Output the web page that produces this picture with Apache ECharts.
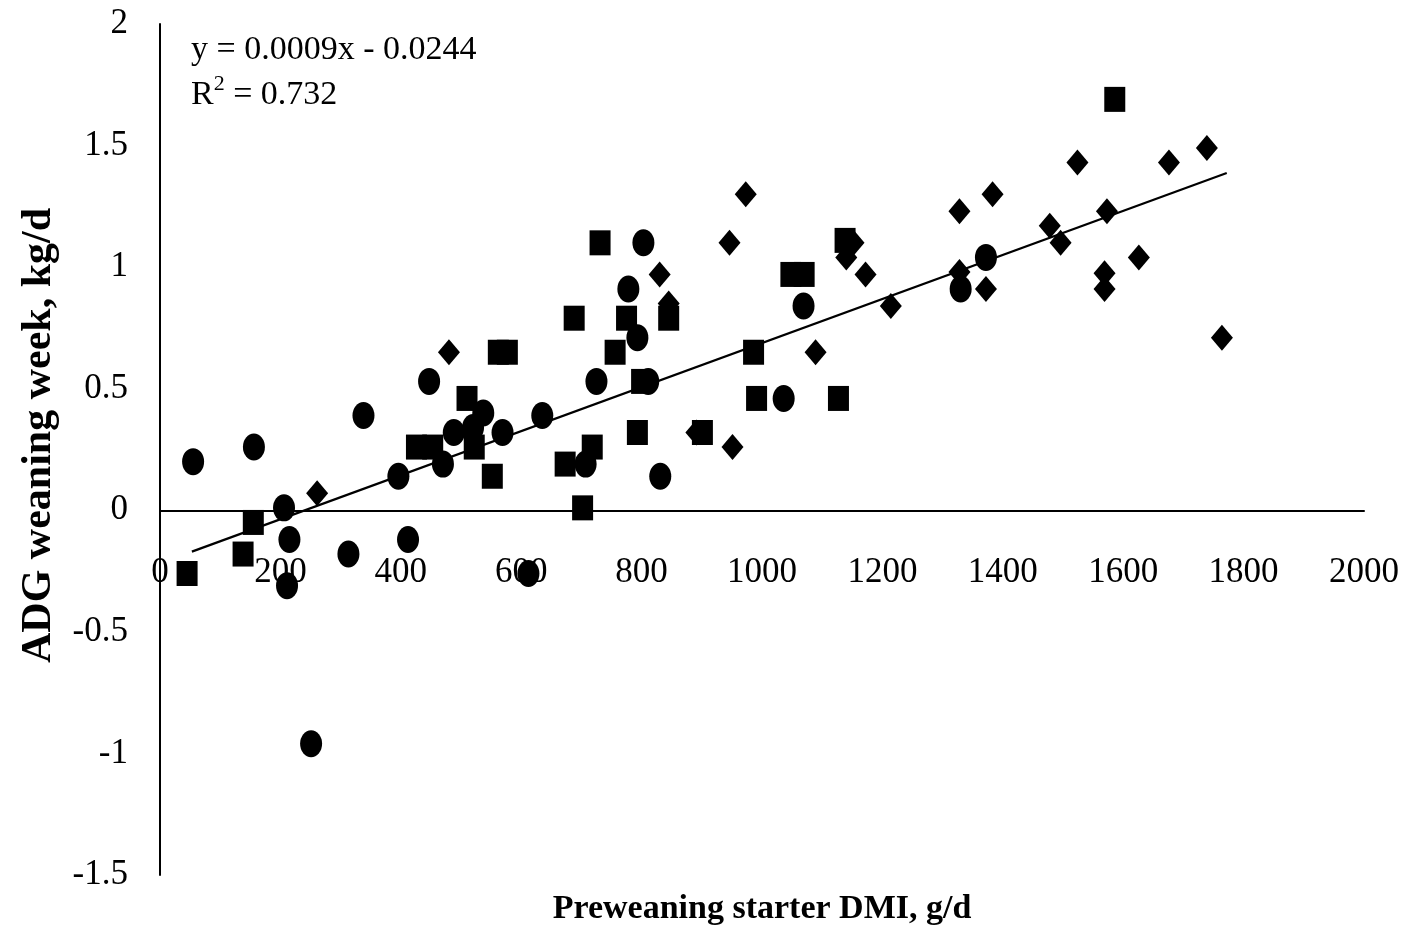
<!DOCTYPE html>
<html>
<head>
<meta charset="utf-8">
<script src="https://cdn.jsdelivr.net/npm/echarts@6/dist/echarts.min.js"></script>
<style>
  html, body { margin: 0; padding: 0; background: #fff; }
  #chart { width: 1404px; height: 929px; }
</style>
</head>
<body>
<div id="chart"></div>
<script>
// Series: [starter DMI g/d, ADG kg/d]
const circlePoints = [
  [55, 0.20], [156, 0.26], [206, 0.01], [215, -0.12], [211, -0.31], [251, -0.96],
  [313, -0.18], [338, 0.39], [396, 0.14], [412, -0.12], [447, 0.53], [470, 0.19],
  [488, 0.32], [520, 0.34], [537, 0.40], [569, 0.32], [635, 0.39], [612, -0.26],
  [707, 0.19], [725, 0.53], [778, 0.91], [793, 0.71], [803, 1.10], [811, 0.53],
  [831, 0.14], [1036, 0.46], [1069, 0.84], [1330, 0.91], [1372, 1.04]
];
const squarePoints = [
  [45, -0.26], [138, -0.18], [155, -0.05], [426, 0.26], [453, 0.26], [510, 0.46],
  [522, 0.26], [552, 0.14], [562, 0.65], [577, 0.65], [673, 0.19], [688, 0.79],
  [702, 0.01], [718, 0.26], [731, 1.10], [756, 0.65], [775, 0.79], [793, 0.32],
  [800, 0.53], [845, 0.79], [901, 0.32], [986, 0.65], [991, 0.46], [1048, 0.97],
  [1070, 0.97], [1127, 0.46], [1138, 1.11], [1586, 1.69]
];
const diamondPoints = [
  [261, 0.07], [480, 0.65], [830, 0.97], [845, 0.85], [891, 0.32], [946, 1.10],
  [951, 0.26], [973, 1.30], [1089, 0.65], [1140, 1.04], [1152, 1.10], [1172, 0.97],
  [1214, 0.84], [1328, 1.23], [1328, 0.98], [1372, 0.91], [1383, 1.30], [1478, 1.17],
  [1496, 1.10], [1524, 1.43], [1569, 0.975], [1569, 0.91], [1573, 1.23], [1626, 1.04],
  [1676, 1.43], [1739, 1.49], [1764, 0.71]
];
// Trend line end points as drawn in the picture
const trendLine = [[53, -0.17], [1772, 1.387]];
const equationLines = ['y = 0.0009x - 0.0244', 'R{sup|2} = 0.732'];
const xAxisTitle = 'Preweaning starter DMI, g/d';
const yAxisTitle = 'ADG weaning week, kg/d';

const FONT = "'Liberation Serif', 'Times New Roman', serif";
const chart = echarts.init(document.getElementById('chart'));
chart.setOption({
  backgroundColor: '#fff',
  animation: false,
  grid: { left: 160, right: 40, top: 24, bottom: 54, containLabel: false, outerBoundsMode: 'none' },
  xAxis: {
    type: 'value', min: 0, max: 2000, interval: 200,
    axisLine: { show: true, onZero: true, lineStyle: { color: '#000', width: 2 } },
    axisTick: { show: false },
    splitLine: { show: false },
    axisLabel: { margin: -320, color: '#000', fontFamily: FONT, fontSize: 35, formatter: v => String(v) },
    name: xAxisTitle, nameLocation: 'middle', nameGap: 17,
    nameTextStyle: { color: '#000', fontFamily: FONT, fontSize: 34, fontWeight: 'bold' }
  },
  yAxis: {
    type: 'value', min: -1.5, max: 2, interval: 0.5,
    axisLine: { show: true, onZero: false, lineStyle: { color: '#000', width: 2 } },
    axisTick: { show: false },
    splitLine: { show: false },
    axisLabel: { margin: 32, color: '#000', fontFamily: FONT, fontSize: 35, padding: [8, 0, 0, 0], formatter: v => String(v) },
    name: yAxisTitle, nameLocation: 'middle', nameGap: 100,
    nameTextStyle: { color: '#000', fontFamily: FONT, fontSize: 42, fontWeight: 'bold', padding: [0, 0, 0, 28] }
  },
  graphic: [{
    type: 'text', left: 191, top: 28,
    style: {
      text: equationLines.join('\n'),
      fill: '#000', font: '34px ' + FONT, lineHeight: 45,
      rich: { sup: { fontSize: 22, verticalAlign: 'top', lineHeight: 45, padding: [0, 0, 14, 0], fontFamily: FONT } }
    }
  }],
  series: [
    { type: 'scatter', name: 'circle', data: circlePoints, symbol: 'circle', symbolSize: [22, 27], itemStyle: { color: '#000', opacity: 1 } },
    { type: 'scatter', name: 'square', data: squarePoints, symbol: 'rect', symbolSize: [21, 25], itemStyle: { color: '#000', opacity: 1 } },
    { type: 'scatter', name: 'diamond', data: diamondPoints, symbol: 'diamond', symbolSize: [22, 26], itemStyle: { color: '#000', opacity: 1 } },
    { type: 'line', name: 'trend', data: trendLine, showSymbol: false, symbol: 'none', lineStyle: { color: '#000', width: 2.2 }, z: 5 }
  ]
});
</script>
</body>
</html>
